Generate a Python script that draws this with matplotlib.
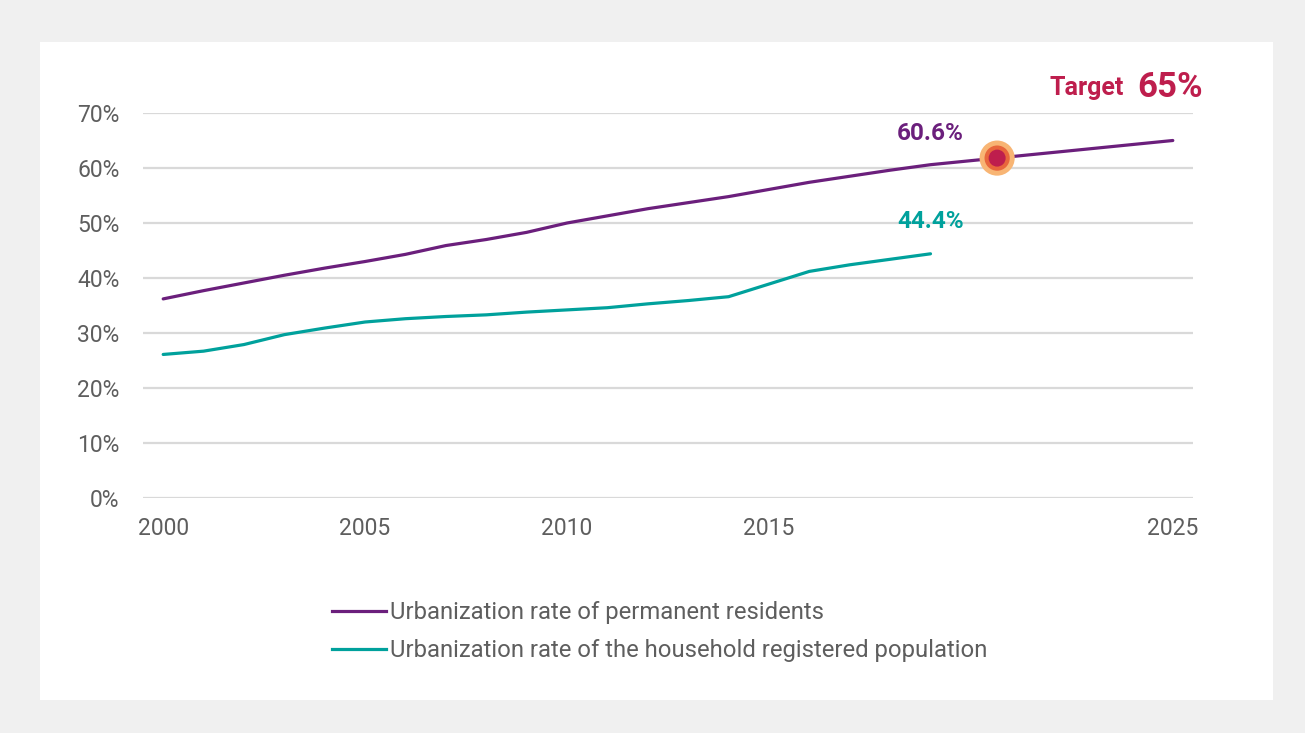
import matplotlib
matplotlib.use('Agg')
import matplotlib.pyplot as plt
from matplotlib.lines import Line2D

# data
years_perm = [2000, 2001, 2002, 2003, 2004, 2005, 2006, 2007, 2008, 2009,
              2010, 2011, 2012, 2013, 2014, 2015, 2016, 2017, 2018, 2019, 2025]
rate_perm = [36.2, 37.7, 39.1, 40.5, 41.8, 43.0, 44.3, 45.9, 47.0, 48.3,
             50.0, 51.3, 52.6, 53.7, 54.8, 56.1, 57.4, 58.5, 59.6, 60.6, 65.0]
years_hukou = [2000, 2001, 2002, 2003, 2004, 2005, 2006, 2007, 2008, 2009,
               2010, 2011, 2012, 2013, 2014, 2015, 2016, 2017, 2018, 2019]
rate_hukou = [26.1, 26.7, 27.9, 29.7, 30.9, 32.0, 32.6, 33.0, 33.3, 33.8,
              34.2, 34.6, 35.3, 35.9, 36.6, 38.9, 41.2, 42.4, 43.4, 44.4]
marker_year, marker_value = 2020.65, 61.8
target_value = 65
x_ticks = [2000, 2005, 2010, 2015, 2025]
y_ticks = [0, 10, 20, 30, 40, 50, 60, 70]
labels = ['Urbanization rate of permanent residents',
          'Urbanization rate of the household registered population']

PURPLE = '#6B1F7C'
TEAL = '#00A19C'
ROSE = '#BE1E4D'
GREY = '#5E5E5E'

plt.rcParams['font.family'] = ['Roboto', 'DejaVu Sans']

fig = plt.figure(figsize=(13.05, 7.33), dpi=100, facecolor='#F0F0F0')
# white card behind everything
fig.patches.append(plt.Rectangle((40 / 1305, 1 - 700 / 733), 1233 / 1305, 658 / 733,
                                 transform=fig.transFigure, facecolor='white',
                                 edgecolor='none', zorder=-10))

ax = fig.add_axes([143 / 1305, 1 - 498 / 733, 1050 / 1305, 385 / 733])
ax.set_facecolor('none')
ax.set_xlim(1999.5, 2025.5)
ax.set_ylim(0, 70)
for s in ax.spines.values():
    s.set_visible(False)
ax.set_yticks(y_ticks)
ax.set_yticklabels([f'{v}%' for v in y_ticks])
ax.set_xticks(x_ticks)
ax.tick_params(length=0, labelsize=16.5, labelcolor=GREY)
ax.tick_params(axis='y', pad=17)
ax.tick_params(axis='x', pad=14)
ax.grid(axis='y', color='#D9D9D9', lw=1.6)
ax.set_axisbelow(True)

ax.plot(years_perm, rate_perm, color=PURPLE, lw=2.3, solid_capstyle='round', zorder=3)
ax.plot(years_hukou, rate_hukou, color=TEAL, lw=2.3, solid_capstyle='round', zorder=3)

# highlighted point on the permanent-residents line
ax.scatter([marker_year], [marker_value], s=640, color='#F8B574',
           edgecolor='none', zorder=4)
ax.scatter([marker_year], [marker_value], s=330, color='#E8663C', edgecolor='none', zorder=5)
ax.scatter([marker_year], [marker_value], s=150, color=ROSE, edgecolor='none', zorder=6)

ax.annotate(f'{rate_perm[19]:.1f}%', (years_perm[19], rate_perm[19]),
            xytext=(0, 14), textcoords='offset points', ha='center', va='bottom',
            color=PURPLE, fontsize=17.5, fontweight='bold')
ax.annotate(f'{rate_hukou[-1]:.1f}%', (years_hukou[-1], rate_hukou[-1]),
            xytext=(0, 15), textcoords='offset points', ha='center', va='bottom',
            color=TEAL, fontsize=17.5, fontweight='bold')
ax.annotate(f'{target_value}%', (years_perm[-1], rate_perm[-1]),
            xytext=(-2, 26), textcoords='offset points', ha='center', va='bottom',
            color=ROSE, fontsize=25, fontweight='bold', annotation_clip=False)
ax.annotate('Target', (years_perm[-1], rate_perm[-1]),
            xytext=(-35, 29), textcoords='offset points', ha='right', va='bottom',
            color=ROSE, fontsize=18, fontweight='bold', annotation_clip=False)

handles = [Line2D([], [], color=PURPLE, lw=2.3), Line2D([], [], color=TEAL, lw=2.3)]
leg = fig.legend(handles, labels, loc='upper left', bbox_to_anchor=(310 / 1305, 1 - 580 / 733),
                 frameon=False, fontsize=17.2, handlelength=2.3, handletextpad=0.15,
                 labelspacing=0.62, labelcolor=GREY)

fig.savefig('out.png', dpi=100, facecolor=fig.get_facecolor())
